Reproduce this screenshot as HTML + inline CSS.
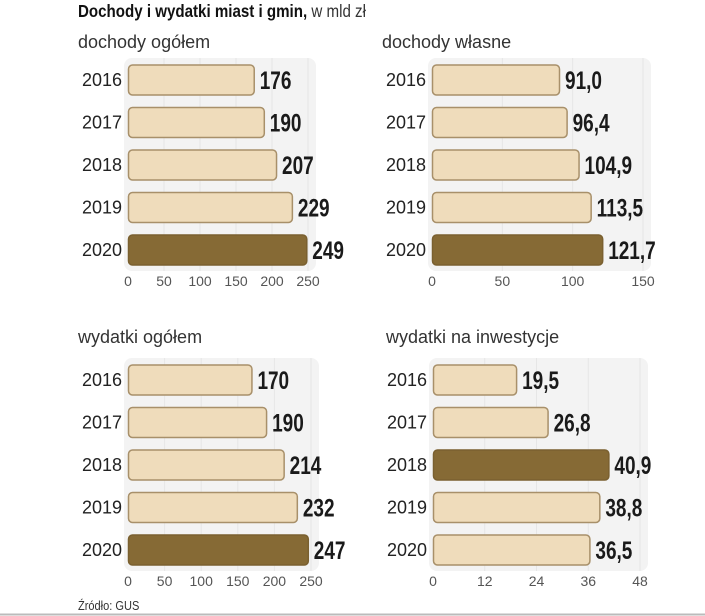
<!DOCTYPE html>
<html><head><meta charset="utf-8"><style>
html,body{margin:0;padding:0;background:#fff;width:705px;height:616px;overflow:hidden}
svg{display:block}
</style></head><body>
<svg id="c" width="705" height="616" xmlns="http://www.w3.org/2000/svg">
<text x="0" y="17" transform="translate(78,0) scale(0.84,1)" font-family="Liberation Sans, sans-serif" font-size="18" font-weight="bold" fill="#111">Dochody i wydatki miast i gmin,<tspan font-weight="normal" fill="#333"> w mld zł</tspan></text>
<text x="0" y="610" transform="translate(78,0) scale(0.85,1)" font-family="Liberation Sans, sans-serif" font-size="13" fill="#333">Źródło: GUS</text>
<line x1="0" y1="614.5" x2="705" y2="614.5" stroke="#bbb" stroke-width="2"/>
</svg>
<script>
const years = ["2016","2017","2018","2019","2020"];
const dochodyOgolem = [176,190,207,229,249];
const dochodyWlasne = [91.0,96.4,104.9,113.5,121.7];
const wydatkiOgolem = [170,190,214,232,247];
const wydatkiInwestycje = [19.5,26.8,40.9,38.8,36.5];
const ticks1 = [0,50,100,150,200,250];
const ticks2 = [0,50,100,150];
const ticks3 = [0,50,100,150,200,250];
const ticks4 = [0,12,24,36,48];
const highlight1 = 4, highlight2 = 4, highlight3 = 4, highlight4 = 2;

const NS = "http://www.w3.org/2000/svg";
const svg = document.getElementById("c");
function mk(tag, attrs, parent){const e=document.createElementNS(NS,tag);for(const k in attrs)e.setAttribute(k,attrs[k]);(parent||svg).appendChild(e);return e;}

function panel(opts){
  const {title,name,vals,ticks,hi,x0,x1,titleX,titleY,rowY0,decimals}=opts;
  const max=ticks[ticks.length-1];
  const sx=v=>x0+(v/max)*(x1-x0);
  const rowStep=42.5, barH=30;
  const g=mk("g",{});
  
  
  const t=mk("text",{x:titleX,y:titleY,"font-family":"Liberation Sans, sans-serif","font-size":"18",fill:"#333"},g);
  t.textContent=title;
  
  
  const top=rowY0-22, bot=rowY0+rowStep*(vals.length-1)+21;
  const bg=mk("rect",{x:x0-4,y:top,width:(x1-x0)+12,height:bot-top,rx:8,fill:"#f3f3f3"},g);
  
  
  ticks.forEach(tv=>{
    if(tv>0){
      const gl=mk("line",{x1:sx(tv),x2:sx(tv),y1:top,y2:bot,stroke:"#e6e6e6","stroke-width":1},g);
      
      
    }
    const tl=mk("text",{x:sx(tv),y:bot+15,"text-anchor":"middle","font-family":"Liberation Sans, sans-serif","font-size":"14",fill:"#555"},g);
    tl.textContent=String(tv);
    
    
  });
  vals.forEach((v,i)=>{
    const cy=rowY0+i*rowStep;
    const yl=mk("text",{x:x0-6,y:cy+6,"text-anchor":"end","font-family":"Liberation Sans, sans-serif","font-size":"18",fill:"#222"},g);
    yl.textContent=years[i];
    
    
    const dark=i===hi;
    const b=mk("rect",{x:x0+0.5,y:cy-barH/2,width:sx(v)-x0-1,height:barH,rx:4,fill:dark?"#866a35":"#efdcbb",stroke:dark?"#7a6030":"#a8906a","stroke-width":1.5},g);
    
    
    const vl=mk("text",{x:0,y:cy+9,transform:"translate("+(sx(v)+5)+",0) scale(0.76,1)","font-family":"Liberation Sans, sans-serif","font-size":"25","font-weight":"bold",fill:"#1a1a1a"},g);
    vl.textContent=decimals?v.toFixed(1).replace('.',','):String(v);
    
    
  });
}
panel({title:"dochody ogółem",name:"dochody-ogolem",vals:dochodyOgolem,ticks:ticks1,hi:highlight1,x0:128,x1:308,titleX:78,titleY:48,rowY0:80,decimals:false});
panel({title:"dochody własne",name:"dochody-wlasne",vals:dochodyWlasne,ticks:ticks2,hi:highlight2,x0:432,x1:643,titleX:382,titleY:48,rowY0:80,decimals:true});
panel({title:"wydatki ogółem",name:"wydatki-ogolem",vals:wydatkiOgolem,ticks:ticks3,hi:highlight3,x0:128,x1:311,titleX:78,titleY:343,rowY0:380,decimals:false});
panel({title:"wydatki na inwestycje",name:"wydatki-inwestycje",vals:wydatkiInwestycje,ticks:ticks4,hi:highlight4,x0:433,x1:640,titleX:386,titleY:343,rowY0:380,decimals:true});
</script>
</body></html>
